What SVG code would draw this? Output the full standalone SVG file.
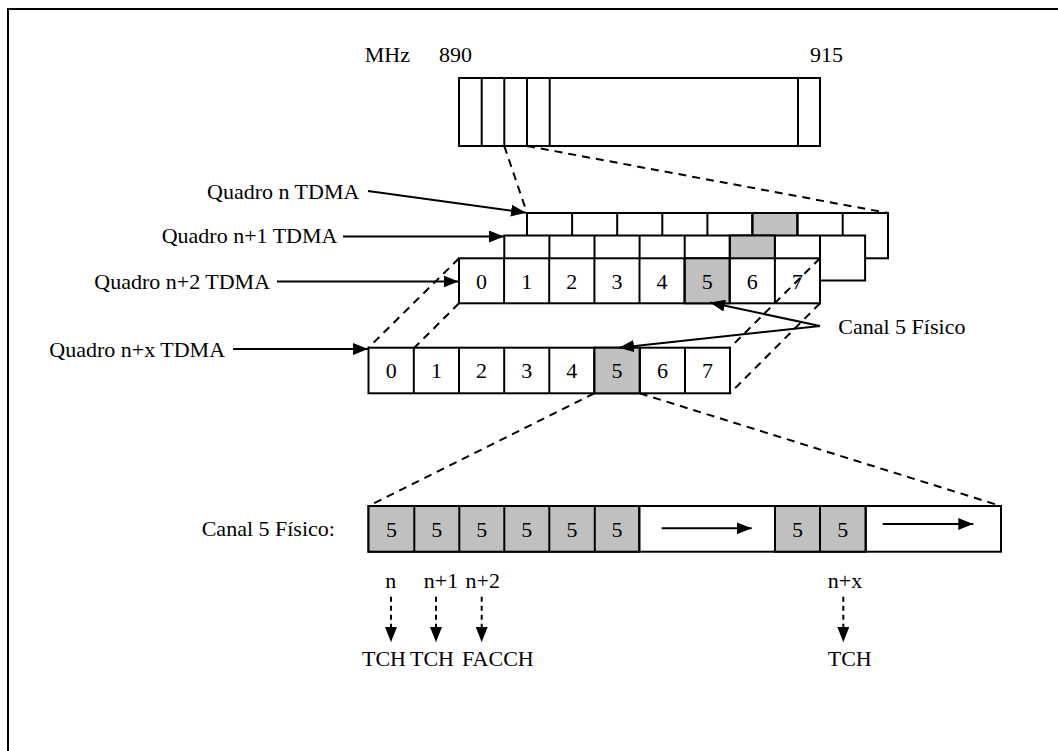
<svg xmlns="http://www.w3.org/2000/svg" width="1058" height="751" viewBox="0 0 1058 751">
<defs>
<style>
text{font-family:"Liberation Serif","Times New Roman",serif;font-size:22px;fill:#000}
.c{text-anchor:middle}
.e{text-anchor:end}
.box{fill:#fff;stroke:#000;stroke-width:2}
.sh{fill:#c0c0c0;stroke:#000;stroke-width:2}
.ln{stroke:#000;stroke-width:2;fill:none}
.ds{stroke:#000;stroke-width:2;fill:none;stroke-dasharray:8,6}
.ds2{stroke:#000;stroke-width:2;fill:none;stroke-dasharray:5,4}
</style>
<marker id="ah" viewBox="0 0 15 12" refX="15" refY="6" markerWidth="15" markerHeight="12" markerUnits="userSpaceOnUse" orient="auto">
<path d="M0,0 L15,6 L0,12 Z" fill="#000"/>
</marker>
</defs>
<rect width="1058" height="751" fill="#fff"/>
<g id="frame"><path d="M8,751 V9 H1058" class="ln" stroke-width="3"/></g>

<g id="band">
<text x="410" y="62" class="e">MHz</text>
<text x="439" y="62">890</text>
<text x="810" y="62">915</text>
<rect x="459" y="78" width="361" height="68" class="box"/>
<path d="M481.7,78V146M504.3,78V146M527,78V146M549.7,78V146M798,78V146" class="ln"/>
</g>

<g id="frame-n">
<rect x="527" y="213" width="361" height="45.3" class="box"/>
<rect x="752.2" y="213" width="45.1" height="45.3" class="sh"/>
<path d="M572.1,213v45.3M617.2,213v45.3M662.3,213v45.3M707.4,213v45.3M752.5,213v45.3M797.6,213v45.3M842.7,213v45.3" class="ln"/>
</g>
<g id="frame-n1">
<rect x="504.3" y="235.5" width="360.8" height="45" class="box"/>
<rect x="729.8" y="235.5" width="45.1" height="45" class="sh"/>
<path d="M549.4,235.5v45M594.5,235.5v45M639.6,235.5v45M684.7,235.5v45M729.8,235.5v45M774.9,235.5v45M820,235.5v45" class="ln"/>
</g>
<g id="frame-n2">
<rect x="459" y="258.3" width="361" height="45" class="box"/>
<rect x="684.6" y="258.3" width="45.1" height="45" class="sh"/>
<path d="M504.1,258.3v45M549.2,258.3v45M594.4,258.3v45M639.5,258.3v45M684.6,258.3v45M729.7,258.3v45M774.9,258.3v45" class="ln"/>
<text x="481.6" y="288.5" class="c">0</text>
<text x="526.7" y="288.5" class="c">1</text>
<text x="571.8" y="288.5" class="c">2</text>
<text x="616.9" y="288.5" class="c">3</text>
<text x="662" y="288.5" class="c">4</text>
<text x="707.2" y="288.5" class="c">5</text>
<text x="752.3" y="288.5" class="c">6</text>
<text x="797.4" y="288.5" class="c">7</text>
</g>

<g id="connectors">
<path d="M504.3,146L527,213M527,146L888,213" class="ds"/>
<path d="M459,258.3L368.5,347.7M459,303.3L368.5,393.3M820,258.3L730,347.7M820,303.3L730,393.3" class="ds"/>
<path d="M594.3,393.3L368.5,506M639.8,393.3L1001,506" class="ds"/>
<path d="M368,191L526,212.7" class="ln" marker-end="url(#ah)"/>
<path d="M343,236.5H504" class="ln" marker-end="url(#ah)"/>
<path d="M277,281.5H458.5" class="ln" marker-end="url(#ah)"/>
<path d="M233,349H368" class="ln" marker-end="url(#ah)"/>
<path d="M820,326L710,302.5" class="ln" marker-end="url(#ah)"/>
<path d="M391,596.7V642" class="ds2" marker-end="url(#ah)"/>
<path d="M436,596.7V642" class="ds2" marker-end="url(#ah)"/>
<path d="M481.7,596.7V642" class="ds2" marker-end="url(#ah)"/>
<path d="M843.3,596.7V642" class="ds2" marker-end="url(#ah)"/>
</g>

<g id="frame-nx">
<rect x="368.5" y="347.7" width="361.5" height="45.6" class="box"/>
<rect x="594.3" y="347.7" width="45.5" height="45.6" class="sh"/>
<path d="M413.8,347.7v45.6M459,347.7v45.6M504.2,347.7v45.6M549.3,347.7v45.6M594.3,347.7v45.6M639.8,347.7v45.6M685,347.7v45.6" class="ln"/>
<text x="391.2" y="378" class="c">0</text>
<text x="436.4" y="378" class="c">1</text>
<text x="481.6" y="378" class="c">2</text>
<text x="526.8" y="378" class="c">3</text>
<text x="571.8" y="378" class="c">4</text>
<text x="617" y="378" class="c">5</text>
<text x="662.4" y="378" class="c">6</text>
<text x="707.5" y="378" class="c">7</text>
</g>
<path d="M820,326L619,347.7" class="ln" marker-end="url(#ah)"/>

<g id="canal-bar">
<text x="201.7" y="536">Canal 5 Físico:</text>
<rect x="368.5" y="506" width="632.5" height="45.7" class="box"/>
<rect x="368.5" y="506" width="270.8" height="45.7" class="sh"/>
<rect x="775" y="506" width="90.7" height="45.7" class="sh"/>
<path d="M414.3,506v45.7M459.3,506v45.7M504.3,506v45.7M549.3,506v45.7M594.8,506v45.7M639.3,506v45.7M775,506v45.7M820,506v45.7M865.7,506v45.7" class="ln"/>
<text x="391.4" y="537" class="c">5</text>
<text x="436.8" y="537" class="c">5</text>
<text x="481.8" y="537" class="c">5</text>
<text x="526.8" y="537" class="c">5</text>
<text x="572" y="537" class="c">5</text>
<text x="617" y="537" class="c">5</text>
<text x="797.5" y="537" class="c">5</text>
<text x="842.8" y="537" class="c">5</text>
<path d="M661.7,528.3H751.7" class="ln" marker-end="url(#ah)"/>
<path d="M882.7,524H973.3" class="ln" marker-end="url(#ah)"/>
</g>

<g id="labels">
<text x="207" y="199">Quadro n TDMA</text>
<text x="161.7" y="243">Quadro n+1 TDMA</text>
<text x="94.3" y="288.5">Quadro n+2 TDMA</text>
<text x="49.3" y="357">Quadro n+x TDMA</text>
<text x="838.3" y="333.5">Canal 5 Físico</text>
<text x="390.8" y="587.5" class="c">n</text>
<text x="441" y="587.5" class="c">n+1</text>
<text x="482.8" y="587.5" class="c">n+2</text>
<text x="845" y="588" class="c">n+x</text>
<text x="362" y="666">TCH</text>
<text x="410" y="666">TCH</text>
<text x="462" y="666">FACCH</text>
<text x="827.7" y="666">TCH</text>
</g>
</svg>
